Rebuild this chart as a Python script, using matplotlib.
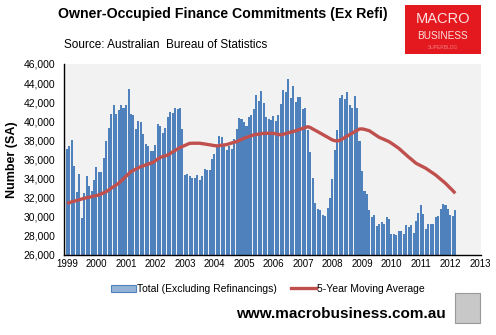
import pandas as pd
import matplotlib
matplotlib.use("Agg")
import matplotlib.pyplot as plt
import matplotlib.dates as mdates
from matplotlib.patches import Rectangle
from matplotlib.lines import Line2D
from matplotlib.ticker import FuncFormatter

plt.rcParams['font.family'] = ['Liberation Sans', 'DejaVu Sans']

# monthly owner-occupied finance commitments, Jan 1999 onwards
start_month = "1999-01-01"
total_ex_refi = [
    37070, 37410, 38040, 35320, 32560, 34480, 29840, 32520, 34270, 33230, 32700, 33850,
    35210, 34660, 34660, 36120, 37940, 39260, 40760, 41710, 40760, 41180, 41710, 41360,
    41710, 43380, 40760, 40660, 39190, 40030, 39930, 38670, 37620, 37410, 36890, 36890,
    37520, 39720, 39470, 38770, 39300, 40450, 40970, 40870, 41390, 41290, 41360, 39190,
    34400, 34480, 34270, 34060, 34060, 34380, 33850, 34270, 35000, 34900, 34900, 36050,
    36570, 37270, 38460, 38390, 37410, 36990, 37410, 37100, 38150, 39190, 40340, 40200,
    39930, 39510, 40450, 40660, 41290, 42750, 42120, 43170, 41920, 40450, 40240, 40130,
    40550, 40030, 40660, 41810, 43280, 43070, 44430, 42430, 43700, 42020, 42540, 42540,
    41290, 41390, 39090, 36780, 34060, 31440, 30820, 30710, 30190, 30080, 30920, 31970,
    33950, 36990, 39090, 42430, 42750, 42330, 43070, 41710, 41390, 42650, 41390, 37940,
    34800, 32700, 32390, 30710, 29980, 30190, 29040, 29250, 29460, 29250, 29980, 29770,
    28200, 28150, 28090, 28510, 28510, 28200, 29140, 28930, 29140, 28300, 29560, 30400,
    31230, 30290, 28720, 29250, 29250, 29250, 29980, 30080, 30820, 31340, 31230, 30790,
    30190, 30080, 30710,
]
moving_avg_5y = [
    31410, 31480, 31560, 31630, 31700, 31780, 31850, 31930, 31990, 32050, 32110, 32170,
    32220, 32280, 32400, 32510, 32630, 32800, 32980, 33150, 33330, 33500, 33740, 33990,
    34230, 34480, 34720, 34850, 34980, 35110, 35240, 35330, 35420, 35510, 35600, 35690,
    35870, 36040, 36220, 36300, 36380, 36460, 36620, 36780, 36940, 37100, 37250, 37360,
    37470, 37580, 37690, 37700, 37700, 37700, 37700, 37660, 37620, 37580, 37540, 37490,
    37450, 37420, 37450, 37480, 37520, 37560, 37640, 37720, 37800, 37870, 37990, 38100,
    38220, 38310, 38400, 38480, 38570, 38610, 38660, 38700, 38740, 38740, 38740, 38740,
    38740, 38680, 38620, 38570, 38640, 38710, 38780, 38850, 38920, 39000, 39090, 39180,
    39270, 39360, 39430, 39350, 39200, 39060, 38920, 38770, 38620, 38470, 38320, 38180,
    38040, 37960, 37950, 38000, 38140, 38290, 38450, 38600, 38740, 38890, 39040, 39190,
    39200, 39150, 39080, 39010, 38840, 38660, 38490, 38320, 38210, 38100, 37980, 37870,
    37700, 37520, 37350, 37170, 36940, 36710, 36470, 36250, 36040, 35820, 35600, 35470,
    35340, 35210, 35080, 34900, 34730, 34550, 34380, 34160, 33940, 33720, 33500, 33240,
    32980, 32720, 32460,
]
year_ticks = list(range(1999, 2014))

months = pd.date_range(start_month, periods=len(total_ex_refi), freq="MS")

fig = plt.figure(figsize=(4.96, 3.35), dpi=100)
ax = fig.add_axes([0.129, 0.239, 0.841, 0.570])
ax.set_facecolor("#F2F2F2")

ax.bar(months, total_ex_refi, width=25, color="#4F81BD", linewidth=0)
ax.plot(months, moving_avg_5y, color="#C0504D", linewidth=2.4, solid_capstyle="butt")

ax.set_ylim(26000, 46000)
ax.set_yticks(range(26000, 46001, 2000))
ax.yaxis.set_major_formatter(FuncFormatter(lambda v, p: f"{int(v):,}"))
ax.set_xlim(pd.Timestamp("1998-11-25"), pd.Timestamp("2013-01-15"))
ax.set_xticks([pd.Timestamp(f"{y}-01-01") for y in year_ticks])
ax.xaxis.set_major_formatter(mdates.DateFormatter("%Y"))

for s in ["top", "right"]:
    ax.spines[s].set_visible(False)
for s in ["left", "bottom"]:
    ax.spines[s].set_color("black")
    ax.spines[s].set_linewidth(1.0)
ax.tick_params(axis="y", labelsize=7.5, length=0, pad=6)
ax.tick_params(axis="x", labelsize=7, length=0, pad=3)
ax.set_ylabel("Number (SA)", fontsize=9, fontweight="bold")
ax.yaxis.set_label_coords(-0.11, 0.5)

# titles
fig.text(0.117, 0.957, "Owner-Occupied Finance Commitments (Ex Refi)",
         fontsize=10.2, fontweight="bold", ha="left", va="center")
fig.text(0.129, 0.866, "Source: Australian  Bureau of Statistics",
         fontsize=8.5, ha="left", va="center")

# macro business logo box
fig.patches.append(Rectangle((0.817, 0.84), 0.153, 0.145, transform=fig.transFigure,
                             facecolor="#E3191F", edgecolor="none"))
fig.text(0.893, 0.943, "MACRO", color="#FBE0E0", fontsize=10.5, ha="center", va="center")
fig.text(0.893, 0.893, "BUSINESS", color="#FBE0E0", fontsize=7.2, ha="center", va="center")
fig.text(0.893, 0.857, "SUPERBLOG", color="#F08080", fontsize=3.5, ha="center", va="center")

# legend
handles = [Rectangle((0, 0), 1, 1, facecolor="#95B3D7", edgecolor="#4F81BD", linewidth=0.8),
           Line2D([], [], color="#C0504D", linewidth=2.4)]
fig.legend(handles, ["Total (Excluding Refinancings)", "5-Year Moving Average"],
           loc="center", bbox_to_anchor=(0.54, 0.137), ncol=2, frameon=False,
           fontsize=7.5, handlelength=2.4, columnspacing=1.4, handletextpad=0.1)

fig.text(0.688, 0.062, "www.macrobusiness.com.au", fontsize=11, fontweight="bold",
         ha="center", va="center")
fig.patches.append(Rectangle((0.918, 0.035), 0.05, 0.09, transform=fig.transFigure,
                             facecolor="#C8C8C8", edgecolor="#999999", linewidth=0.8))

fig.savefig("out.png", dpi=100)
